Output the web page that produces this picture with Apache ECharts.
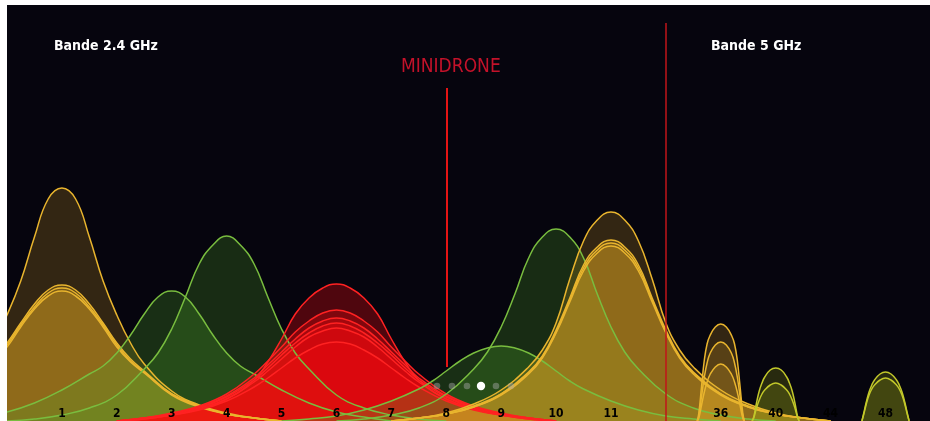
<!DOCTYPE html>
<html>
<head>
<meta charset="utf-8">
<script src="https://cdn.jsdelivr.net/npm/echarts@6/dist/echarts.min.js"></script>
<style>
  html, body { margin: 0; padding: 0; background: #fff; }
  #chart { position: absolute; left: 7px; top: 5px; width: 923px; height: 416px; }
</style>
</head>
<body>
<div id="chart"></div>
<script>
// x positions on the axis (5 GHz channels packed after a gap) and their labels
const CHANNEL_POS = [1, 2, 3, 4, 5, 6, 7, 8, 9, 10, 11, 13, 14, 15, 16];
const CHANNEL_LABELS = ['1', '2', '3', '4', '5', '6', '7', '8', '9', '10', '11', '36', '40', '44', '48'];

// 2.4 GHz bumps: height read at these distances from the channel centre (mirrored both sides)
const WIDE_OFFSETS = [0, 0.25, 0.5, 0.75, 1, 1.25, 1.5, 2, 2.5, 3, 3.5, 4];
const ch1High = [233, 222, 184, 140, 106, 78, 57, 30, 16, 8, 3, 0];
const ch1LowA = [136, 131, 117, 98, 78, 62, 50, 27, 15, 7, 3, 0];
const ch1LowB = [133, 128, 114, 96, 76, 60, 49, 27, 15, 7, 3, 0];
const ch1LowC = [130, 125, 112, 94, 74, 59, 48, 26, 14, 7, 3, 0];
const ch3 = [130, 124, 107, 86, 68, 55, 47, 31, 18, 9, 4, 0];
const ch4 = [185, 176, 157, 124, 92, 68, 52, 26, 13, 6, 2, 0];
const ch6A = [137, 133, 123, 107, 82, 59, 41, 22, 12, 6, 2, 0];
const ch6B = [111, 108, 100, 89, 74, 60, 47, 27, 15, 8, 3, 0];
const ch6C = [103, 100, 93, 82, 69, 56, 43, 25, 14, 7, 3, 0];
const ch6D = [98, 95, 88, 78, 66, 53, 41, 24, 13, 7, 3, 0];
const ch6E = [93, 90, 84, 74, 62, 50, 39, 22, 12, 6, 3, 0];
const ch6F = [79, 77, 71, 63, 53, 43, 34, 20, 11, 6, 2, 0];
const ch9 = [75, 73, 68, 60, 50, 40, 32, 20, 11, 5, 2, 0];
const ch10 = [192, 184, 163, 127, 94, 69, 52, 27, 13, 6, 2, 0];
const ch11High = [209, 201, 180, 142, 98, 71, 54, 31, 17, 8, 3, 0];
const ch11LowA = [181, 174, 156, 123, 91, 65, 49, 27, 15, 7, 3, 0];
const ch11LowB = [178, 171, 153, 121, 89, 64, 48, 27, 14, 7, 3, 0];
const ch11LowC = [175, 168, 150, 119, 88, 63, 47, 26, 14, 7, 3, 0];

// 5 GHz arches are much narrower
const NARROW_OFFSETS = [0, 0.1, 0.2, 0.25, 0.3, 0.35, 0.4, 0.43];
const ch36A = [97, 94, 85, 77, 61, 35, 8, 0];
const ch36B = [79, 76, 67, 58, 44, 25, 5, 0];
const ch36C = [57, 54, 46, 39, 29, 16, 3, 0];
const ch40A = [53, 51, 44, 38, 30, 18, 4, 0];
const ch40B = [38, 36, 31, 27, 21, 13, 3, 0];
const ch48A = [49, 47, 41, 36, 29, 19, 7, 0];
const ch48B = [43, 41, 36, 32, 26, 17, 6, 0];

const FONT = "'Liberation Sans Narrow', 'DejaVu Sans Condensed', 'Roboto', sans-serif";

const COLORS = {
  yellow: { line: '#e9b52e', fill: '220,165,36' },
  green: { line: '#79bd3f', fill: '80,165,40' },
  red: { line: '#ff2222', fill: '255,10,16' },
  olive: { line: '#c2c82a', fill: '150,160,20' }
};

// mirror the half profile around the channel position
function bump(pos, heights, offsets) {
  const pts = [];
  for (let i = offsets.length - 1; i > 0; i--) pts.push([pos - offsets[i], heights[i]]);
  for (let i = 0; i < offsets.length; i++) pts.push([pos + offsets[i], heights[i]]);
  return pts;
}

function curve(pos, heights, offsets, color, alpha) {
  const c = COLORS[color];
  return {
    type: 'line',
    data: bump(pos, heights, offsets),
    smooth: 0.45,
    symbol: 'none',
    silent: true,
    lineStyle: { color: c.line, width: 1.5 },
    areaStyle: { color: 'rgba(' + c.fill + ',' + alpha + ')', origin: 'start' }
  };
}

const series = [
  curve(1, ch1High, WIDE_OFFSETS, 'yellow', 0.3),
  curve(1, ch1LowA, WIDE_OFFSETS, 'yellow', 0.33),
  curve(1, ch1LowB, WIDE_OFFSETS, 'yellow', 0.33),
  curve(1, ch1LowC, WIDE_OFFSETS, 'yellow', 0.33),
  curve(3, ch3, WIDE_OFFSETS, 'green', 0.38),
  curve(4, ch4, WIDE_OFFSETS, 'green', 0.36),
  curve(6, ch6A, WIDE_OFFSETS, 'red', 0.42),
  curve(6, ch6B, WIDE_OFFSETS, 'red', 0.4),
  curve(6, ch6C, WIDE_OFFSETS, 'red', 0.4),
  curve(6, ch6D, WIDE_OFFSETS, 'red', 0.4),
  curve(6, ch6E, WIDE_OFFSETS, 'red', 0.4),
  curve(6, ch6F, WIDE_OFFSETS, 'red', 0.4),
  curve(9, ch9, WIDE_OFFSETS, 'green', 0.38),
  curve(10, ch10, WIDE_OFFSETS, 'green', 0.36),
  curve(11, ch11High, WIDE_OFFSETS, 'yellow', 0.3),
  curve(11, ch11LowA, WIDE_OFFSETS, 'yellow', 0.33),
  curve(11, ch11LowB, WIDE_OFFSETS, 'yellow', 0.33),
  curve(11, ch11LowC, WIDE_OFFSETS, 'yellow', 0.33),
  curve(13, ch36A, NARROW_OFFSETS, 'yellow', 0.3),
  curve(13, ch36B, NARROW_OFFSETS, 'yellow', 0.3),
  curve(13, ch36C, NARROW_OFFSETS, 'yellow', 0.3),
  curve(14, ch40A, NARROW_OFFSETS, 'olive', 0.35),
  curve(14, ch40B, NARROW_OFFSETS, 'olive', 0.35),
  curve(16, ch48A, NARROW_OFFSETS, 'olive', 0.35),
  curve(16, ch48B, NARROW_OFFSETS, 'olive', 0.35),
  // red marker lines
  {
    type: 'line',
    data: [],
    z: 5,
    markLine: {
      silent: true,
      symbol: 'none',
      label: { show: false },
      data: [
        [{ coord: [8, 54] }, { coord: [8, 333], lineStyle: { color: '#e31414', width: 2, type: 'solid' } }],
        [{ coord: [12, 0] }, { coord: [12, 398], lineStyle: { color: '#c0141a', width: 1.5, type: 'solid' } }]
      ]
    }
  }
];

const chart = echarts.init(document.getElementById('chart'));

const dots = [430, 445, 460, 474, 489, 504].map((x, i) => ({
  type: 'circle',
  z: 100,
  shape: { cx: x, cy: 381, r: i === 3 ? 4.2 : 3.3 },
  style: { fill: i === 3 ? '#ffffff' : 'rgba(170,170,170,0.45)' }
}));

chart.setOption({
  backgroundColor: '#06050e',
  animation: false,
  grid: { left: 0, right: 0, top: 0, bottom: 0, outerBoundsMode: 'none' },
  xAxis: {
    type: 'value',
    min: 0,
    max: 16.81,
    interval: 1,
    z: 10,
    axisLine: { show: false },
    axisTick: { show: false },
    splitLine: { show: false },
    axisLabel: {
      inside: true,
      margin: 1,
      showMaxLabel: false,
      color: '#000',
      fontWeight: 'bold',
      fontSize: 12,
      fontFamily: FONT,
      formatter: function (v) {
        const i = CHANNEL_POS.indexOf(v);
        return i >= 0 ? CHANNEL_LABELS[i] : '';
      }
    }
  },
  yAxis: { type: 'value', min: 0, max: 416, show: false },
  series: series,
  graphic: [
    {
      type: 'text', left: 47, top: 34, z: 100,
      style: { text: 'Bande 2.4 GHz', fill: '#fff', font: 'bold 14px ' + FONT }
    },
    {
      type: 'text', left: 394, top: 53, z: 100,
      style: { text: 'MINIDRONE', fill: '#c4122a', font: '19px ' + FONT }
    },
    {
      type: 'text', left: 704, top: 34, z: 100,
      style: { text: 'Bande 5 GHz', fill: '#fff', font: 'bold 14px ' + FONT }
    }
  ].concat(dots)
});
</script>
</body>
</html>
